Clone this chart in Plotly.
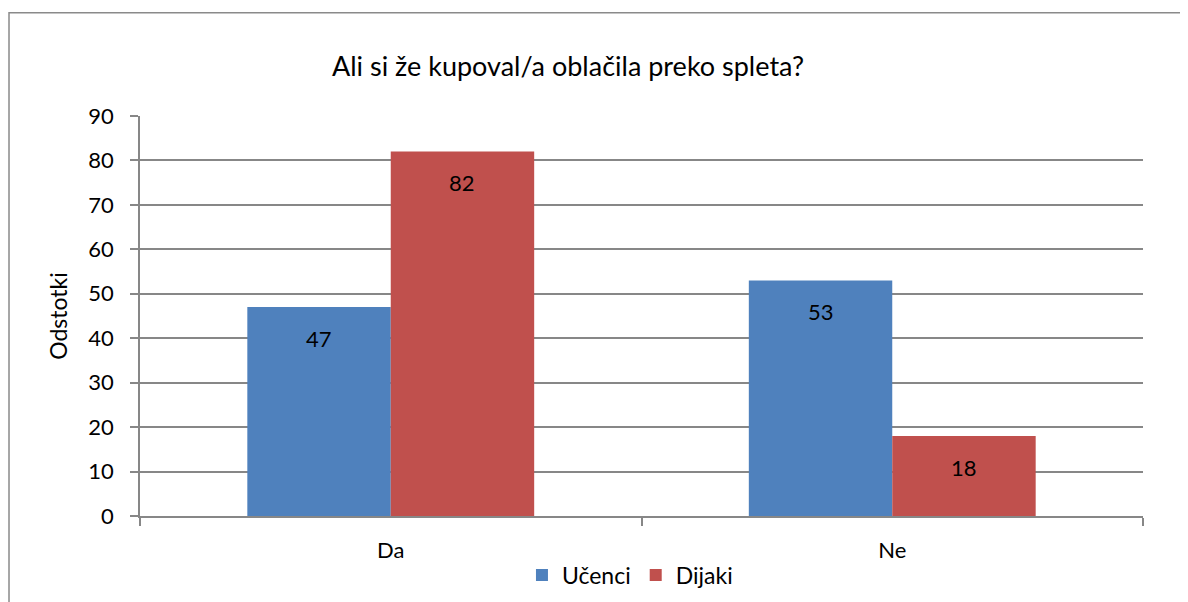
import plotly.graph_objects as go

categories = ["Da", "Ne"]
ucenci = [47, 53]
dijaki = [82, 18]
series_names = ["Učenci", "Dijaki"]
title_text = "Ali si že kupoval/a oblačila preko spleta?"
y_title = "Odstotki"

FONT = "Lato, Carlito, Calibri, sans-serif"
BLUE = "#4F81BD"
RED = "#C0504D"
GRID = "#878787"

W, H = 1180, 600  # page body has 8px margin

fig = go.Figure()
fig.add_trace(go.Bar(name=series_names[0], x=categories, y=ucenci, marker=dict(color=BLUE, line=dict(width=0))))
fig.add_trace(go.Bar(name=series_names[1], x=categories, y=dijaki, marker=dict(color=RED, line=dict(width=0))))

# data labels inside end of bars
bar_px = 143
for vals, shift in ((ucenci, -bar_px / 2), (dijaki, bar_px / 2)):
    for c, v in zip(categories, vals):
        fig.add_annotation(x=c, y=v, xref="x", yref="y", text=str(v), showarrow=False,
                           xshift=shift, yshift=-31, font=dict(family=FONT, size=22, color="#000000"))

fig.add_shape(type="rect", xref="paper", yref="paper", x0=-0.1306, x1=1.2, y0=-0.4, y1=1.258,
              line=dict(color="#8a8a8a", width=1.5), fillcolor="rgba(0,0,0,0)", layer="below")

fig.update_layout(
    width=W, height=H,
    margin=dict(l=132, r=45, t=108, b=H - 508),
    paper_bgcolor="white", plot_bgcolor="white",
    barmode="group", bargap=0.428, bargroupgap=0,
    font=dict(family=FONT, size=22, color="#000000"),
    title=dict(text=title_text, x=560 / W, xanchor="center", y=1 - 59 / H, yanchor="middle",
               font=dict(family=FONT, size=27, color="#000000"), automargin=False),
    legend=dict(orientation="h", x=0.4885, xanchor="center", y=-0.1475, yanchor="middle",
                font=dict(family=FONT, size=23), itemwidth=30, traceorder="normal"),
    showlegend=True,
)
fig.update_yaxes(range=[0, 90], dtick=10, showgrid=True, gridcolor=GRID, gridwidth=1.5,
                 showline=True, linecolor=GRID, linewidth=1.5, ticks="outside", ticklen=8,
                 tickcolor=GRID, tickwidth=1.5, zeroline=False, ticklabelstandoff=12,
                 tickfont=dict(family=FONT, size=22), automargin=False,
                 title=dict(text=y_title, font=dict(family=FONT, size=23), standoff=14))
fig.update_xaxes(showline=True, linecolor=GRID, linewidth=1.5, ticks="outside", tickson="boundaries",
                 ticklen=8, tickcolor=GRID, tickwidth=1.5, showgrid=False, ticklabelstandoff=14,
                 tickfont=dict(family=FONT, size=22), automargin=False)

fig.write_html("out.html")
